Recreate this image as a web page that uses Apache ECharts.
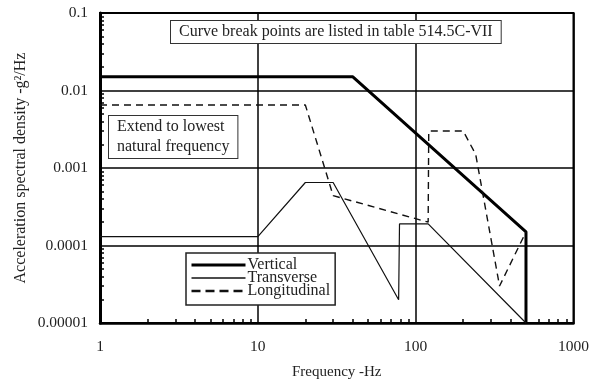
<!DOCTYPE html>
<html>
<head>
<meta charset="utf-8">
<script src="https://cdn.jsdelivr.net/npm/echarts@6/dist/echarts.min.js"></script>
<style>
  html, body { margin: 0; padding: 0; background: #fff; }
  #chartLineBox { width: 592px; height: 385px; }
</style>
</head>
<body>
<div id="chartLineBox"></div>
<script>
// 数据 (Hz, g^2/Hz)
var vertical = [[1, 0.015], [40, 0.015], [500, 0.00015], [500, 0.00001]];
var transverse = [[1, 0.00013], [10, 0.00013], [20, 0.00065], [30, 0.00065],
  [78, 0.00002], [79, 0.00019], [120, 0.00019], [500, 0.00001]];
var longitudinal = [[1, 0.0065], [20, 0.0065], [30, 0.00044], [120, 0.0002],
  [121, 0.003], [200, 0.003], [240, 0.0015], [340, 0.00003], [500, 0.00015]];
var seriesNames = ["Vertical", "Transverse", "Longitudinal"];

// 小刻度
var xMinorTicks = [2, 3, 4, 5, 6, 7, 8, 9, 20, 30, 40, 50, 60, 70, 80, 90,
  200, 300, 400, 500, 600, 700, 800, 900];
var yMinorTicks = [];
[0.00001, 0.0001, 0.001, 0.01].forEach(function (d) {
  for (var k = 2; k <= 9; k++) yMinorTicks.push(Number((d * k).toPrecision(1)));
});

var serif = '"Liberation Serif", "Times New Roman", serif';
var ink = "#222";

var chartLine = echarts.init(document.getElementById("chartLineBox"));

var option = {
  backgroundColor: "#fff",
  animation: false,
  grid: {
    left: 100,
    right: 16,
    top: 13,
    bottom: 62,
    show: true,
    borderColor: "#000",
    borderWidth: 2,
  },
  legend: {
    data: [
      { name: seriesNames[0], lineStyle: { width: 3 } },
      { name: seriesNames[1], lineStyle: { width: 1.5 } },
      { name: seriesNames[2], lineStyle: { width: 2.5, type: [9, 5] } },
    ],
    orient: "vertical",
    left: 186,
    top: 253,
    itemWidth: 54,
    itemHeight: 13,
    itemGap: -3,
    padding: [4, 5, 6, 4],
    backgroundColor: "#fff",
    borderColor: "#222",
    borderWidth: 1.5,
    borderRadius: 0,
    itemStyle: { opacity: 0 }, // 不显示图例圆点
    textStyle: {
      fontFamily: serif,
      fontSize: 16,
      lineHeight: 13,
      color: ink,
      padding: [0, 0, 0, -3],
    },
  },
  xAxis: [
    {
      type: "log",
      logBase: 10,
      min: 1,
      max: 1000,
      position: "bottom",
      name: "Frequency -Hz",
      nameLocation: "middle",
      nameGap: 42,
      nameMoveOverlap: false,
      nameTextStyle: { fontFamily: serif, fontSize: 15, color: ink },
      axisLine: { lineStyle: { color: "#000", width: 2.5 } },
      axisTick: { show: false },
      splitLine: { show: true, lineStyle: { color: "#000", width: 1.5 } },
      axisLabel: {
        fontFamily: serif,
        fontSize: 15.5,
        color: ink,
        margin: 16,
        formatter: function (v) { return String(Math.round(v)); },
      },
    },
    {
      // 只画小刻度
      type: "log",
      logBase: 10,
      min: 1,
      max: 1000,
      position: "bottom",
      axisLine: { show: false },
      axisLabel: { show: false },
      splitLine: { show: false },
      axisTick: {
        show: true,
        inside: true,
        length: 4,
        customValues: xMinorTicks,
        lineStyle: { color: "#000", width: 1.5 },
      },
    },
  ],
  yAxis: [
    {
      type: "log",
      logBase: 10,
      min: 0.00001,
      max: 0.1,
      position: "left",
      name: "Acceleration spectral density -g\u00b2/Hz",
      nameLocation: "middle",
      nameGap: 71,
      nameMoveOverlap: false,
      nameTextStyle: { fontFamily: serif, fontSize: 16, color: ink },
      axisLine: { lineStyle: { color: "#000", width: 3 } },
      axisTick: { show: false },
      splitLine: { show: true, lineStyle: { color: "#000", width: 1.5 } },
      axisLabel: {
        fontFamily: serif,
        fontSize: 15.5,
        color: ink,
        margin: 12,
        formatter: function (v) { return String(Number(v.toPrecision(1))); },
      },
    },
    {
      type: "log",
      logBase: 10,
      min: 0.00001,
      max: 0.1,
      position: "left",
      axisLine: { show: false },
      axisLabel: { show: false },
      splitLine: { show: false },
      axisTick: {
        show: true,
        inside: true,
        length: 4,
        customValues: yMinorTicks,
        lineStyle: { color: "#000", width: 1.5 },
      },
    },
  ],
  graphic: [
    {
      type: "text",
      left: 170,
      top: 20,
      z: 100,
      style: {
        text: "Curve break points are listed in table 514.5C-VII",
        font: "16px " + serif,
        fill: ink,
        backgroundColor: "#fff",
        borderColor: "#333",
        borderWidth: 1,
        padding: [3, 8, 3, 8],
      },
    },
    {
      type: "text",
      left: 108,
      top: 115,
      z: 100,
      style: {
        text: "Extend to lowest\nnatural frequency",
        font: "16px " + serif,
        fill: ink,
        align: "center",
        lineHeight: 20,
        backgroundColor: "#fff",
        borderColor: "#333",
        borderWidth: 1,
        padding: [1, 8, 1, 8],
      },
    },
  ],
  series: [
    {
      name: "Vertical",
      type: "line",
      xAxisIndex: 0,
      yAxisIndex: 0,
      data: vertical,
      symbol: "none",
      lineStyle: { color: "#000", width: 3 },
      itemStyle: { color: "#000" },
    },
    {
      name: "Transverse",
      type: "line",
      xAxisIndex: 0,
      yAxisIndex: 0,
      data: transverse,
      symbol: "none",
      lineStyle: { color: "#111", width: 1.2 },
      itemStyle: { color: "#111" },
    },
    {
      name: "Longitudinal",
      type: "line",
      xAxisIndex: 0,
      yAxisIndex: 0,
      data: longitudinal,
      symbol: "none",
      lineStyle: { color: "#111", width: 1.4, type: [7, 5] },
      itemStyle: { color: "#111" },
    },
  ],
};

chartLine.setOption(option);
</script>
</body>
</html>
